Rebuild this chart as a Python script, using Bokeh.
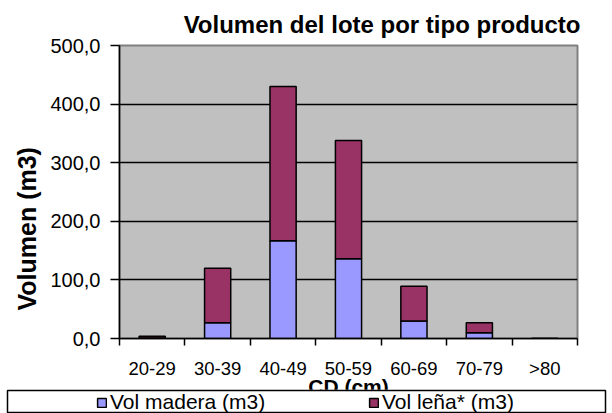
from bokeh.plotting import figure
from bokeh.models import (Range1d, FixedTicker, Legend, LegendItem, ColumnDataSource, Title)
from bokeh.embed import file_html
from bokeh.resources import INLINE

categories = ["20-29", "30-39", "40-49", "50-59", "60-69", "70-79", ">80"]
vol_madera = [1, 27, 167, 136, 30, 10, 0]
vol_lena = [3, 93, 263, 202, 59, 17, 0]
y_ticks = [0, 100, 200, 300, 400, 500]
grid_ticks = [100, 200, 300, 400]
series_labels = ["Vol madera (m3)", "Vol leña* (m3)"]
series_colors = ["#9999FF", "#993366"]

FONT = "Liberation Sans"
MAIN_H = 413
STRIP_TOP = 389

xs = [i + 0.5 for i in range(len(categories))]
src = ColumnDataSource(dict(x=xs, madera=vol_madera, lena=vol_lena))

# ---------------- main chart ----------------
p = figure(width=612, height=MAIN_H, output_backend="svg", toolbar_location=None,
           x_range=Range1d(0, len(categories)), y_range=Range1d(0, 500),
           min_border_left=119, min_border_right=35, min_border_top=45,
           min_border_bottom=MAIN_H - 338)

p.background_fill_color = "#C0C0C0"
p.border_fill_color = "white"
p.outline_line_color = "#808080"
p.outline_line_width = 2

p.title.text = "Volumen del lote por tipo producto"
p.title.align = "right"
p.title.offset = -3
p.title.standoff = 16
p.title.text_font = FONT
p.title.text_font_size = "24px"
p.title.text_font_style = "bold"
p.title.text_color = "black"

p.vbar_stack(["madera", "lena"], x="x", width=0.4, source=src,
             fill_color=series_colors, line_color="black", line_width=1.5)

p.xgrid.visible = False
p.ygrid.ticker = FixedTicker(ticks=grid_ticks)
p.ygrid.grid_line_color = "black"
p.ygrid.grid_line_width = 1.5

# y axis
p.yaxis.ticker = FixedTicker(ticks=y_ticks)
p.yaxis.major_label_overrides = {v: f"{v:.1f}".replace(".", ",") for v in y_ticks}
p.yaxis.major_tick_out = 9
p.yaxis.major_tick_in = 0
p.yaxis.minor_tick_out = 0
p.yaxis.minor_tick_in = 0
p.yaxis.major_label_standoff = 10
p.yaxis.major_label_text_font = FONT
p.yaxis.major_label_text_font_size = "20px"
p.yaxis.major_label_text_color = "black"
p.yaxis.axis_line_color = "black"
p.yaxis.axis_line_width = 1.5
p.yaxis.major_tick_line_color = "black"
p.yaxis.major_tick_line_width = 1.5

# x axis
p.xaxis.ticker = FixedTicker(ticks=xs, minor_ticks=list(range(len(categories) + 1)))
p.xaxis.major_label_overrides = {x: c for x, c in zip(xs, categories)}
p.xaxis.major_tick_out = 0
p.xaxis.major_tick_in = 0
p.xaxis.minor_tick_out = 7
p.xaxis.minor_tick_in = 0
p.xaxis.minor_tick_line_color = "black"
p.xaxis.minor_tick_line_width = 1.5
p.xaxis.major_label_standoff = 12
p.xaxis.major_label_text_font = FONT
p.xaxis.major_label_text_font_size = "18.5px"
p.xaxis.major_label_text_color = "black"
p.xaxis.axis_line_color = "black"
p.xaxis.axis_line_width = 1.5
p.xaxis.axis_label = "CD (cm)"
p.xaxis.axis_label_standoff = -7
p.xaxis.axis_label_text_font = FONT
p.xaxis.axis_label_text_font_size = "21px"
p.xaxis.axis_label_text_font_style = "bold"
p.xaxis.axis_label_text_color = "black"

ytitle = Title(text="Volumen (m3)", align="left", offset=28, standoff=14,
               text_font=FONT, text_font_size="25px", text_font_style="bold",
               text_color="black")
p.add_layout(ytitle, "left")

# ---------------- legend strip (boxed legend, overlapping the bottom) ----------------
p2 = figure(width=612, height=413 - STRIP_TOP, output_backend="svg",
            toolbar_location=None,
            x_range=Range1d(-2, -1), y_range=Range1d(0, 1),
            x_axis_location=None, y_axis_location=None,
            min_border_left=7, min_border_right=7, min_border_top=1,
            min_border_bottom=1, margin=(STRIP_TOP - MAIN_H, 0, 0, 0))
p2.grid.visible = False
p2.background_fill_color = "white"
p2.border_fill_color = "white"
p2.outline_line_color = "black"
p2.outline_line_width = 1.5

proxies = p2.vbar_stack(["madera", "lena"], x="x", width=0.4, source=src,
                        fill_color=series_colors, line_color="black",
                        line_width=1.5)
for r in proxies:
    r.visible = False

legend = Legend(items=[LegendItem(label=lab, renderers=[r])
                       for lab, r in zip(series_labels, proxies)],
                orientation="horizontal", location=(89, -2),
                glyph_width=11, glyph_height=11, label_standoff=3,
                label_width=200, label_height=20, spacing=58, padding=0, margin=0,
                border_line_alpha=0, background_fill_alpha=0,
                label_text_font=FONT, label_text_font_size="21px",
                label_text_color="black")
p2.add_layout(legend)

open("out.html", "w").write(file_html([p, p2], INLINE))
